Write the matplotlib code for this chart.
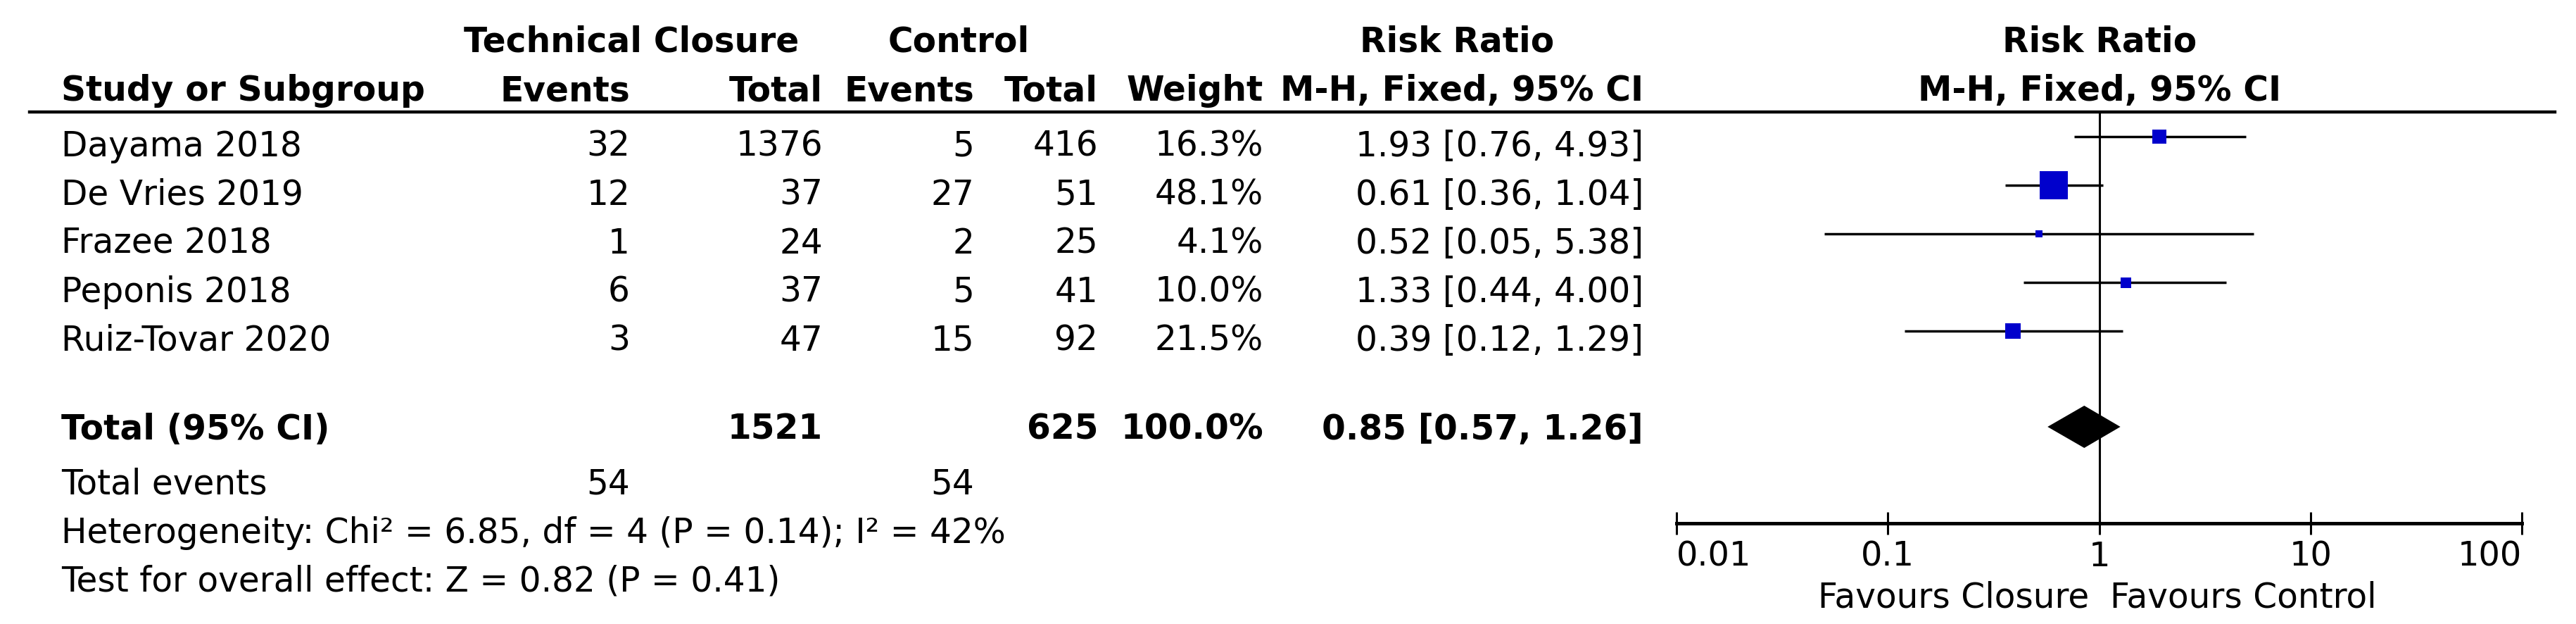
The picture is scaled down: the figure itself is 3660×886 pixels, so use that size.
import numpy as np
import matplotlib
matplotlib.use('Agg')
import matplotlib.pyplot as plt
from matplotlib.lines import Line2D

studies = ['Dayama 2018', 'De Vries 2019', 'Frazee 2018', 'Peponis 2018', 'Ruiz-Tovar 2020']
tc_events = [32, 12, 1, 6, 3]
tc_total = [1376, 37, 24, 37, 47]
ctl_events = [5, 27, 2, 5, 15]
ctl_total = [416, 51, 25, 41, 92]
weights = [16.3, 48.1, 4.1, 10.0, 21.5]
rr = [1.93, 0.61, 0.52, 1.33, 0.39]
ci_lo = [0.76, 0.36, 0.05, 0.44, 0.12]
ci_hi = [4.93, 1.04, 5.38, 4.00, 1.29]

total_tc = 1521
total_ctl = 625
total_weight = 100.0
total_rr = 0.85
total_lo = 0.57
total_hi = 1.26
events_tc = 54
events_ctl = 54
chi2, df, p_het, i2 = 6.85, 4, 0.14, 42
z_val, p_z = 0.82, 0.41

xticks = [0.01, 0.1, 1, 10, 100]
xtick_labels = ['0.01', '0.1', '1', '10', '100']

W, H = 3660, 887
FS = 35
BLUE = '#0000cc'

plt.rcParams['font.family'] = 'DejaVu Sans'
fig = plt.figure(figsize=(W / 100, H / 100), dpi=100)


def put(x, y, s, ha='left', bold=False, size=FS):
    fig.text(x / W, 1 - y / H, s, ha=ha, va='baseline', fontsize=size,
             fontweight='bold' if bold else 'normal')


# column anchors (pixels)
x_name = 87
x_ev1, x_tot1 = 895, 1169
x_ev2, x_tot2 = 1384, 1560
x_wt, x_rr = 1795, 2335
x_plot = 2983

# headers
put(897, 73, 'Technical Closure', ha='center', bold=True)
put(1362, 73, 'Control', ha='center', bold=True)
put(2070, 73, 'Risk Ratio', ha='center', bold=True)
put(x_plot, 73, 'Risk Ratio', ha='center', bold=True)
put(x_name, 143, 'Study or Subgroup', bold=True)
put(x_ev1, 143, 'Events', ha='right', bold=True)
put(x_tot1, 143, 'Total', ha='right', bold=True)
put(x_ev2, 143, 'Events', ha='right', bold=True)
put(x_tot2, 143, 'Total', ha='right', bold=True)
put(x_wt, 143, 'Weight', ha='right', bold=True)
put(x_rr, 143, 'M-H, Fixed, 95% CI', ha='right', bold=True)
put(x_plot, 143, 'M-H, Fixed, 95% CI', ha='center', bold=True)

fig.add_artist(Line2D([42 / W, 3630 / W], [1 - 160 / H, 1 - 160 / H],
                      color='black', lw=3.2))

# study rows
for i, name in enumerate(studies):
    yb = 222 + 69 * i
    put(x_name, yb, name)
    put(x_ev1, yb, str(tc_events[i]), ha='right')
    put(x_tot1, yb, str(tc_total[i]), ha='right')
    put(x_ev2, yb, str(ctl_events[i]), ha='right')
    put(x_tot2, yb, str(ctl_total[i]), ha='right')
    put(x_wt, yb, f'{weights[i]:.1f}%', ha='right')
    put(x_rr, yb, f'{rr[i]:.2f} [{ci_lo[i]:.2f}, {ci_hi[i]:.2f}]', ha='right')

# totals
put(x_name, 624, 'Total (95% CI)', bold=True)
put(x_tot1, 624, str(total_tc), ha='right', bold=True)
put(x_tot2, 624, str(total_ctl), ha='right', bold=True)
put(x_wt, 624, f'{total_weight:.1f}%', ha='right', bold=True)
put(x_rr, 624, f'{total_rr:.2f} [{total_lo:.2f}, {total_hi:.2f}]', ha='right', bold=True)
put(x_name, 702, 'Total events')
put(x_ev1, 702, str(events_tc), ha='right')
put(x_ev2, 702, str(events_ctl), ha='right')
put(x_name, 771, f'Heterogeneity: Chi\u00b2 = {chi2:.2f}, df = {df} (P = {p_het:.2f}); I\u00b2 = {i2}%')
put(x_name, 840, f'Test for overall effect: Z = {z_val:.2f} (P = {p_z:.2f})')

# forest plot
ax_left, ax_right = 2382, 3583
ax_top, ax_bot = 160, 744
ax = fig.add_axes([ax_left / W, 1 - ax_bot / H, (ax_right - ax_left) / W, (ax_bot - ax_top) / H])
ax.set_xscale('log')
ax.set_xlim(0.01, 100)
ax.set_ylim(ax_bot, ax_top)
ax.patch.set_visible(False)
for side in ['top', 'left', 'right']:
    ax.spines[side].set_visible(False)
ax.spines['bottom'].set_linewidth(3.6)
ax.set_yticks([])

ax.axvline(1, color='black', lw=2.2, zorder=1)

for i in range(len(studies)):
    y = 195 + 69 * i
    ax.plot([ci_lo[i], ci_hi[i]], [y, y], color='black', lw=2.5, solid_capstyle='butt', zorder=2)
    side_pt = (8.2 + 0.68 * weights[i]) * 0.72
    ax.plot(rr[i], y, marker='s', ms=side_pt, mew=0, color=BLUE, zorder=3)

yt = 607
ax.fill([total_lo, total_rr, total_hi, total_rr], [yt, yt - 30, yt, yt + 30],
        color='black', lw=0, zorder=3)

ax.set_xticks(xticks)
ax.set_xticklabels(xtick_labels)
ax.xaxis.set_minor_locator(matplotlib.ticker.NullLocator())
ax.tick_params(axis='x', direction='inout', length=23, width=2.2, labelsize=34.5, pad=5)
labels = ax.get_xticklabels()
labels[0].set_ha('left')
labels[-1].set_ha('right')

put(x_plot - 15, 863, 'Favours Closure', ha='right')
put(x_plot + 15, 863, 'Favours Control', ha='left')

fig.savefig('out.png', dpi=100)
